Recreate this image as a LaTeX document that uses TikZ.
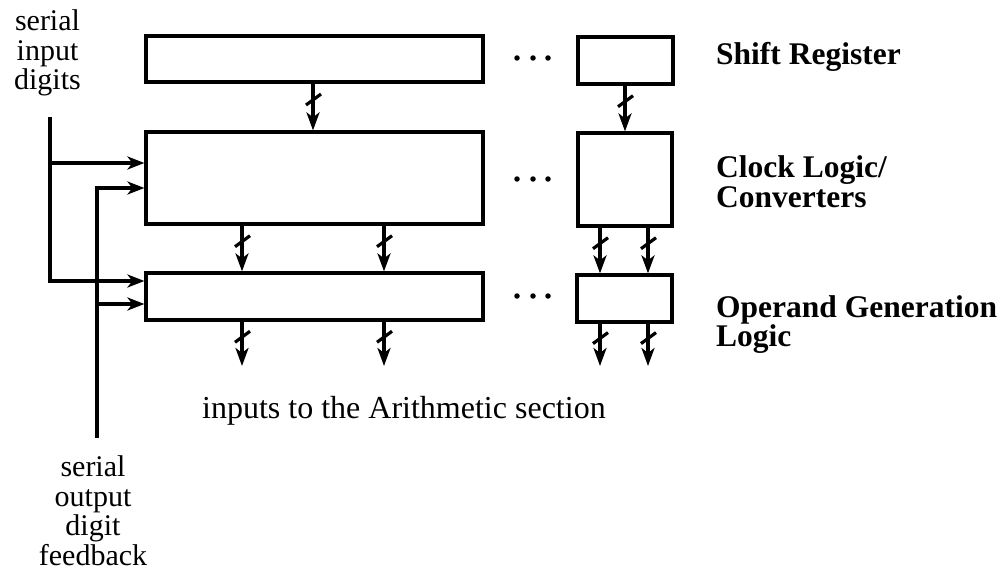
\documentclass[tikz,border=0pt]{standalone}
\usepackage{fontspec}
\setmainfont{Liberation Serif}
\usetikzlibrary{arrows.meta,decorations.markings}

\begin{document}
\begin{tikzpicture}[x=1pt,y=-1pt,
  box/.style={draw,line width=3.2pt,rectangle,inner sep=0pt},
  bus/.style={line width=3.2pt,-{Stealth[length=18pt,width=13pt,inset=5pt]},
    postaction={decorate},
    decoration={markings,mark=at position 0.33 with {\draw[line width=3.2pt,-] (6pt,-7pt)--(-5pt,8pt);}}},
  feed/.style={line width=3.2pt,-{Stealth[length=17pt,width=13pt,inset=5pt]}},
  lbl/.style={font=\fontsize{31.5}{29}\selectfont\bfseries,align=left,inner sep=0pt},
  txt/.style={font=\fontsize{30}{29.5}\selectfont,align=center,inner sep=0pt},
  dot/.style={circle,fill,inner sep=0pt,minimum size=5.5pt}]
\useasboundingbox (0,0) rectangle (1004,575);

% boxes
\node[box,minimum width=337pt,minimum height=46pt] (sr) at (314.5,59) {};
\node[box,minimum width=95pt,minimum height=47pt] (srs) at (625.5,60.5) {};
\node[box,minimum width=337pt,minimum height=92pt] (cl) at (314.5,178) {};
\node[box,minimum width=94pt,minimum height=93pt] (cls) at (625,179.5) {};
\node[box,minimum width=337pt,minimum height=47pt] (og) at (314.5,296.5) {};
\node[box,minimum width=95pt,minimum height=47pt] (ogs) at (624.5,298.5) {};

% column / row coordinates
\coordinate (c1) at (242,0);
\coordinate (c2) at (384,0);
\coordinate (c3) at (313,0);
\coordinate (d1) at (600,0);
\coordinate (d2) at (648,0);
\coordinate (d3) at (625,0);
\coordinate (r1) at (0,163);
\coordinate (r2) at (0,188);
\coordinate (r3) at (0,281);
\coordinate (r4) at (0,304);

% bus arrows
\draw[bus] (sr.south -| c3) -- (cl.north -| c3);
\draw[bus] (srs.south -| d3) -- (cls.north -| d3);
\draw[bus] (cl.south -| c1) -- (og.north -| c1);
\draw[bus] (cl.south -| c2) -- (og.north -| c2);
\draw[bus] (cls.south -| d1) -- (ogs.north -| d1);
\draw[bus] (cls.south -| d2) -- (ogs.north -| d2);

\coordinate (o1) at (242,366);
\coordinate (o2) at (384,366);
\coordinate (o3) at (600,366);
\coordinate (o4) at (648,366);
\draw[bus] (og.south -| o1) -- (o1);
\draw[bus] (og.south -| o2) -- (o2);
\draw[bus] (ogs.south -| o3) -- (o3);
\draw[bus] (ogs.south -| o4) -- (o4);

% serial input and feedback
\coordinate (sin) at (50,117);
\coordinate (fin) at (97,438);
\draw[feed] (sin) |- (cl.west |- r1);
\draw[feed] (sin) |- (og.west |- r3);
\draw[feed] (fin) |- (cl.west |- r2);
\draw[feed] (fin) |- (og.west |- r4);

% dots
\foreach \y/\n in {58/a,179/b,296/c}{
  \node[dot] (p1\n) at (517,\y) {};
  \node[dot] (p2\n) at (533,\y) {};
  \node[dot] (p3\n) at (548,\y) {};
}

% labels (base anchor = baseline of last line)
\node[lbl,anchor=base west] (lsr) at (716,65) {Shift Register};
\node[lbl,anchor=base west] (lcl) at (716,207) {Clock Logic/\\Converters};
\node[lbl,anchor=base west] (log) at (716,346) {Operand Generation\\Logic};
\node[txt,anchor=base] (lin) at (47.5,90) {serial\\input\\digits};
\node[txt,anchor=base] (lout) at (93,565) {serial\\output\\digit\\feedback};
\node[font=\fontsize{32}{32}\selectfont,anchor=base west,inner sep=0pt] (larith) at (202,418) {inputs to the Arithmetic section};
\end{tikzpicture}
\end{document}
